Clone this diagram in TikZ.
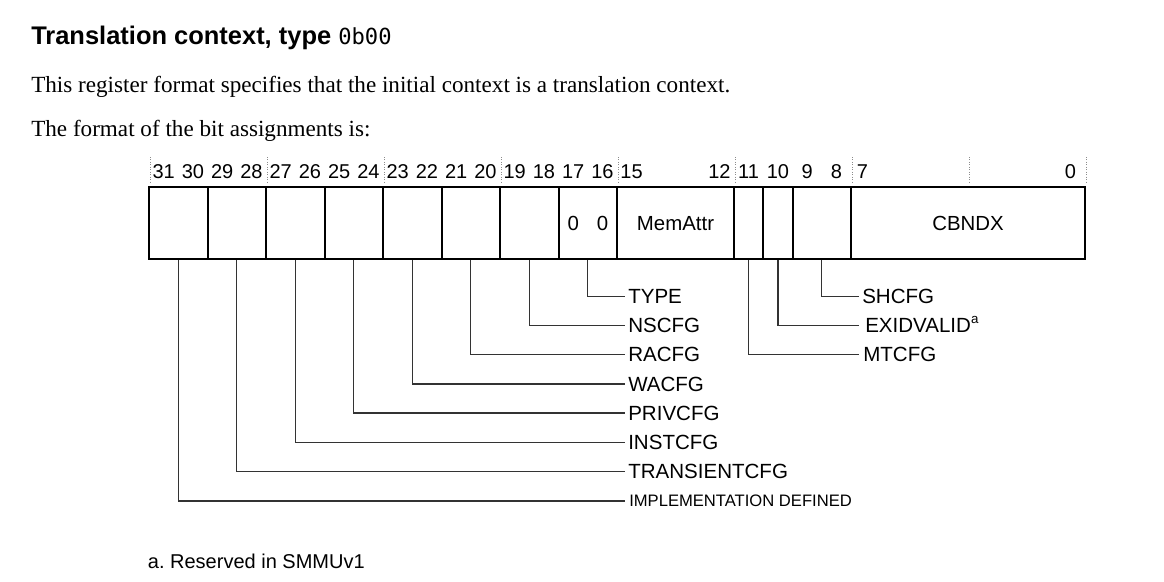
\documentclass[tikz,border=0pt]{standalone}
\usepackage{fontspec}
\setmainfont{Liberation Serif}
\newfontfamily\arialfont{Liberation Sans}
\newfontfamily\codefont{DejaVu Sans Mono}
\frenchspacing
\begin{document}
\begin{tikzpicture}[x=0.75pt,y=-0.75pt,
  field/.style={draw, line width=1.5pt, minimum width=#1*21.9375pt, minimum height=54pt, inner sep=0pt, text height=11pt, text depth=0pt, font=\arialfont\fontsize{15.3}{18}\selectfont},
  celltext/.style={inner sep=0pt, text height=11pt, text depth=0pt, font=\arialfont\fontsize{15.3}{18}\selectfont},
  bitnum/.style={anchor=base, inner sep=0pt, font=\arialfont\fontsize{15}{18}\selectfont},
  fieldlabel/.style={anchor=west, inner xsep=2.25pt, inner ysep=0pt, text height=10.9pt, text depth=0pt, font=\arialfont\fontsize{15.4}{18}\selectfont},
  smalllabel/.style={anchor=west, inner xsep=3pt, inner ysep=0pt, text height=8.9pt, text depth=0pt, font=\arialfont\fontsize{12.45}{14}\selectfont},
  leader/.style={draw=black!80, line width=1.1pt},
  dotline/.style={draw=black!45, line width=0.6pt, dash pattern=on 0.75pt off 1.1pt},
  bodytext/.style={anchor=base west, inner sep=0pt, font=\fontsize{17.35}{20}\selectfont}
]
\useasboundingbox (0,0) rectangle (1164,582);
\fill[white] (0,0) rectangle (1164,582);

% heading and body text
\node[anchor=base west, inner sep=0pt] (title) at (31,44)
  {\arialfont\bfseries\fontsize{19.1}{22}\selectfont Translation context, type {\codefont\mdseries\fontsize{16.6}{20}\selectfont 0b00}};
\node[bodytext] (line1) at (31,92.3) {This register format specifies that the initial context is a translation context.};
\node[bodytext] (line2) at (31,136.7) {The format of the bit assignments is:};

% dotted separators every four bits
\foreach \k in {0,...,8} {
  \draw[dotline] ({150+117*\k},157) -- ({150+117*\k},184);
}

% bit numbers
\foreach \b in {31,...,16} {
  \node[bitnum] (b\b) at ({149+(31.5-\b)*29.25},178.3) {\b};
}
\node[bitnum] (b15) at (631.6,178.3) {15};
\node[bitnum] (b12) at (719.4,178.3) {12};
\node[bitnum] (b11) at (748.6,178.3) {11};
\node[bitnum] (b10) at (777.9,178.3) {10};
\node[bitnum] (b9) at (807.1,178.3) {9};
\node[bitnum] (b8) at (836.4,178.3) {8};
\node[bitnum] (b7) at (862.5,178.3) {7};
\node[bitnum] (b0) at (1070.4,178.3) {0};

% register fields
\node[field=2] (f31) at (178.25,223) {};
\node[field=2] (f29) at (236.75,223) {};
\node[field=2] (f27) at (295.25,223) {};
\node[field=2] (f25) at (353.75,223) {};
\node[field=2] (f23) at (412.25,223) {};
\node[field=2] (f21) at (470.75,223) {};
\node[field=2] (f19) at (529.25,223) {};
\node[field=2] (f17) at (587.75,223) {};
\node[field=4] (f15) at (675.5,223) {MemAttr};
\node[field=1] (f11) at (748.625,223) {};
\node[field=1] (f10) at (777.875,223) {};
\node[field=2] (f9) at (821.75,223) {};
\node[field=8] (f7) at (968,223) {CBNDX};
\node[celltext] (z17) at (573.4,223) {0};
\node[celltext] (z16) at (602.6,223) {0};

% field labels, left group
\node[fieldlabel] (ltype) at (625,296.3) {TYPE};
\node[fieldlabel] (lns) at (625,325.5) {NSCFG};
\node[fieldlabel] (lra) at (625,354.7) {RACFG};
\node[fieldlabel] (lwa) at (625,384) {WACFG};
\node[fieldlabel] (lpriv) at (625,413.2) {PRIVCFG};
\node[fieldlabel] (linst) at (625,442.4) {INSTCFG};
\node[fieldlabel] (ltrans) at (625,471.6) {TRANSIENTCFG};
\node[smalllabel] (limpl) at (625,501) {IMPLEMENTATION DEFINED};

% field labels, right group
\node[fieldlabel] (lsh) at (859,296.3) {SHCFG};
\node[fieldlabel, inner xsep=4.5pt] (lexid) at (859,325.5) {EXIDVALID\raisebox{6.7pt}{\fontsize{10}{10}\selectfont a}};
\node[fieldlabel, inner xsep=3pt] (lmt) at (859,354.7) {MTCFG};

% leaders
\draw[leader] (f17.south) |- (ltype.west);
\draw[leader] (f19.south) |- (lns.west);
\draw[leader] (f21.south) |- (lra.west);
\draw[leader] (f23.south) |- (lwa.west);
\draw[leader] (f25.south) |- (lpriv.west);
\draw[leader] (f27.south) |- (linst.west);
\draw[leader] (f29.south) |- (ltrans.west);
\draw[leader] (f31.south) |- (limpl.west);
\draw[leader] (f9.south) |- (lsh.west);
\draw[leader] (f10.south) |- (lexid.west);
\draw[leader] (f11.south) |- (lmt.west);

% footnote
\node[anchor=base west, inner sep=0pt, font=\arialfont\fontsize{15}{18}\selectfont] (foot) at (147.7,568.3) {a. Reserved in SMMUv1};
\end{tikzpicture}
\end{document}
